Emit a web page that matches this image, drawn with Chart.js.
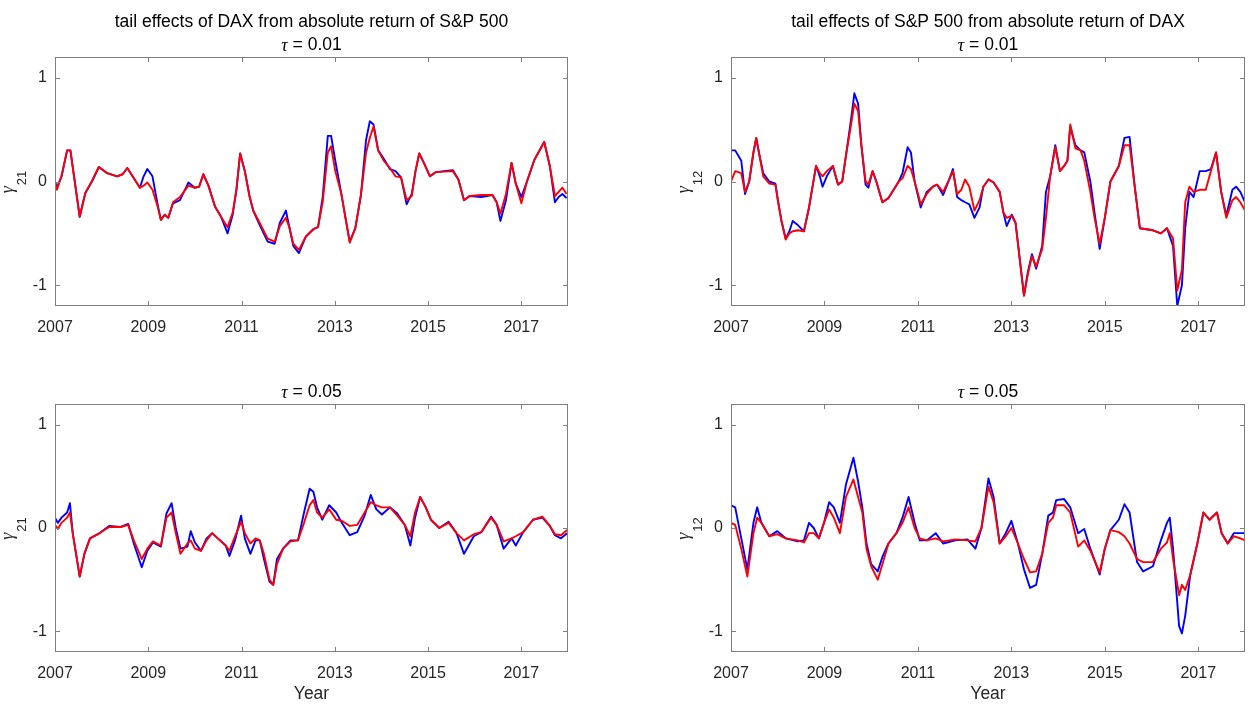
<!DOCTYPE html>
<html lang="en">
<head>
<meta charset="UTF-8">
<title>tail effects of DAX and S&amp;P 500</title>
<script src="https://cdn.jsdelivr.net/npm/chart.js"></script>
<style>
  body { margin: 0; background: #fff; }
  #wrap { position: relative; width: 1254px; height: 707px; overflow: hidden; }
  #wrap canvas { position: absolute; }
</style>
</head>
<body>
<div id="wrap">
  <canvas id="c1" width="620" height="350" style="left:0;top:0"></canvas>
  <canvas id="c2" width="614" height="350" style="left:640px;top:0"></canvas>
  <canvas id="c3" width="620" height="347" style="left:0;top:360px"></canvas>
  <canvas id="c4" width="614" height="347" style="left:640px;top:360px"></canvas>
</div>
<script>
const xTicks = [2007, 2009, 2011, 2013, 2015, 2017];
const yTicks = [-1, 0, 1];

// DAX from |S&P 500|, tau = 0.01
const t1 = [2007.00, 2007.04, 2007.14, 2007.26, 2007.33, 2007.53, 2007.65, 2007.79, 2007.94, 2008.12,
  2008.33, 2008.45, 2008.55, 2008.65, 2008.82, 2008.90, 2008.98, 2009.09, 2009.20, 2009.27,
  2009.35, 2009.43, 2009.53, 2009.68, 2009.86, 2010.00, 2010.09, 2010.18, 2010.29, 2010.43,
  2010.56, 2010.70, 2010.81, 2010.89, 2010.97, 2011.07, 2011.17, 2011.25, 2011.39, 2011.56,
  2011.71, 2011.82, 2011.95, 2012.03, 2012.11, 2012.23, 2012.38, 2012.54, 2012.64, 2012.74,
  2012.85, 2012.92, 2013.01, 2013.14, 2013.24, 2013.32, 2013.44, 2013.56, 2013.67, 2013.75,
  2013.83, 2013.93, 2014.05, 2014.18, 2014.30, 2014.42, 2014.54, 2014.65, 2014.73, 2014.81,
  2014.91, 2015.04, 2015.16, 2015.53, 2015.65, 2015.77, 2015.89, 2016.14, 2016.38, 2016.47,
  2016.55, 2016.67, 2016.79, 2016.88, 2017.00, 2017.12, 2017.28, 2017.49, 2017.61, 2017.72,
  2017.80, 2017.88, 2017.97];
const blue1 = [0.00, -0.06, 0.05, 0.30, 0.30, -0.34, -0.11, 0.00, 0.14, 0.08,
  0.05, 0.07, 0.13, 0.06, -0.06, 0.05, 0.12, 0.05, -0.22, -0.37,
  -0.32, -0.35, -0.21, -0.18, -0.01, -0.06, -0.05, 0.07, -0.04, -0.24,
  -0.34, -0.50, -0.32, -0.08, 0.27, 0.10, -0.14, -0.28, -0.42, -0.58,
  -0.60, -0.40, -0.28, -0.45, -0.62, -0.69, -0.53, -0.46, -0.44, -0.15,
  0.44, 0.44, 0.20, -0.12, -0.38, -0.58, -0.45, -0.13, 0.40, 0.58,
  0.55, 0.30, 0.22, 0.12, 0.10, 0.04, -0.22, -0.12, 0.10, 0.27,
  0.18, 0.05, 0.09, 0.11, 0.02, -0.18, -0.14, -0.15, -0.13, -0.20,
  -0.38, -0.18, 0.18, -0.02, -0.15, 0.00, 0.21, 0.38, 0.15, -0.20,
  -0.15, -0.12, -0.16];
const red1 = [0.00, -0.08, 0.05, 0.30, 0.30, -0.34, -0.11, 0.00, 0.14, 0.08,
  0.05, 0.07, 0.13, 0.06, -0.06, -0.04, -0.01, -0.08, -0.24, -0.37,
  -0.32, -0.35, -0.20, -0.15, -0.04, -0.06, -0.05, 0.07, -0.04, -0.24,
  -0.34, -0.44, -0.30, -0.08, 0.27, 0.10, -0.14, -0.28, -0.40, -0.55,
  -0.58, -0.43, -0.35, -0.45, -0.60, -0.66, -0.53, -0.46, -0.44, -0.20,
  0.28, 0.34, 0.10, -0.12, -0.38, -0.59, -0.45, -0.13, 0.28, 0.42,
  0.53, 0.30, 0.20, 0.13, 0.05, 0.04, -0.18, -0.14, 0.10, 0.27,
  0.18, 0.05, 0.09, 0.10, 0.02, -0.18, -0.14, -0.13, -0.13, -0.20,
  -0.31, -0.12, 0.18, -0.02, -0.21, 0.00, 0.21, 0.38, 0.15, -0.14,
  -0.10, -0.06, -0.12];

// S&P 500 from |DAX|, tau = 0.01
const t2 = [2007.00, 2007.09, 2007.22, 2007.30, 2007.39, 2007.48, 2007.54, 2007.61, 2007.69, 2007.82,
  2007.95, 2008.01, 2008.08, 2008.17, 2008.25, 2008.32, 2008.43, 2008.56, 2008.67, 2008.82,
  2008.90, 2008.96, 2009.05, 2009.18, 2009.29, 2009.38, 2009.46, 2009.57, 2009.64, 2009.72,
  2009.79, 2009.88, 2009.94, 2010.03, 2010.11, 2010.24, 2010.37, 2010.59, 2010.67, 2010.78,
  2010.85, 2010.93, 2011.06, 2011.19, 2011.32, 2011.41, 2011.54, 2011.67, 2011.75, 2011.84,
  2011.93, 2012.01, 2012.10, 2012.21, 2012.32, 2012.40, 2012.51, 2012.62, 2012.75, 2012.83,
  2012.90, 2013.01, 2013.09, 2013.18, 2013.27, 2013.35, 2013.44, 2013.53, 2013.66, 2013.74,
  2013.83, 2013.94, 2014.04, 2014.13, 2014.20, 2014.26, 2014.37, 2014.48, 2014.56, 2014.69,
  2014.78, 2014.89, 2015.00, 2015.12, 2015.30, 2015.42, 2015.53, 2015.64, 2015.75, 2016.03,
  2016.20, 2016.33, 2016.46, 2016.55, 2016.65, 2016.72, 2016.81, 2016.90, 2017.03, 2017.16,
  2017.27, 2017.38, 2017.49, 2017.60, 2017.73, 2017.81, 2017.90, 2018.00];
const blue2 = [0.30, 0.30, 0.20, -0.12, 0.00, 0.28, 0.42, 0.25, 0.08, 0.00,
  -0.02, -0.20, -0.38, -0.55, -0.48, -0.38, -0.42, -0.48, -0.25, 0.15,
  0.05, -0.05, 0.05, 0.15, -0.03, 0.00, 0.25, 0.60, 0.85, 0.75,
  0.35, -0.03, -0.06, 0.10, 0.00, -0.20, -0.16, 0.00, 0.08, 0.33,
  0.28, 0.00, -0.25, -0.10, -0.05, -0.03, -0.13, 0.02, 0.12, -0.15,
  -0.18, -0.20, -0.22, -0.35, -0.25, -0.05, 0.02, -0.01, -0.10, -0.30,
  -0.43, -0.32, -0.40, -0.75, -1.10, -0.88, -0.70, -0.84, -0.62, -0.10,
  0.05, 0.35, 0.10, 0.15, 0.20, 0.53, 0.35, 0.30, 0.28, 0.00,
  -0.30, -0.65, -0.35, 0.00, 0.15, 0.42, 0.43, -0.05, -0.45, -0.47,
  -0.50, -0.45, -0.62, -1.20, -1.00, -0.45, -0.10, -0.15, 0.10, 0.10,
  0.12, 0.28, -0.10, -0.33, -0.08, -0.05, -0.10, -0.20];
const red2 = [0.00, 0.10, 0.08, -0.10, 0.00, 0.28, 0.42, 0.25, 0.05, -0.02,
  -0.03, -0.20, -0.38, -0.56, -0.50, -0.48, -0.47, -0.48, -0.25, 0.15,
  0.08, 0.05, 0.10, 0.15, -0.03, 0.00, 0.25, 0.55, 0.75, 0.68,
  0.35, 0.00, -0.03, 0.10, 0.00, -0.20, -0.16, 0.00, 0.03, 0.15,
  0.12, 0.00, -0.22, -0.12, -0.05, -0.03, -0.10, 0.02, 0.10, -0.12,
  -0.08, 0.02, -0.05, -0.28, -0.18, -0.05, 0.02, -0.01, -0.10, -0.30,
  -0.35, -0.33, -0.40, -0.75, -1.10, -0.90, -0.72, -0.82, -0.65, -0.35,
  0.05, 0.33, 0.10, 0.15, 0.20, 0.55, 0.32, 0.30, 0.20, -0.10,
  -0.35, -0.60, -0.35, 0.00, 0.15, 0.35, 0.35, -0.05, -0.45, -0.47,
  -0.50, -0.45, -0.55, -1.05, -0.85, -0.20, -0.05, -0.10, -0.08, -0.08,
  0.10, 0.28, -0.10, -0.35, -0.18, -0.15, -0.20, -0.28];

// DAX from |S&P 500|, tau = 0.05
const t3 = [2007.00, 2007.06, 2007.14, 2007.26, 2007.32, 2007.38, 2007.53, 2007.63, 2007.75, 2007.92,
  2008.16, 2008.41, 2008.57, 2008.69, 2008.86, 2008.98, 2009.10, 2009.27, 2009.39, 2009.50,
  2009.59, 2009.69, 2009.84, 2009.91, 2010.00, 2010.13, 2010.25, 2010.37, 2010.49, 2010.66,
  2010.74, 2010.86, 2010.99, 2011.07, 2011.19, 2011.30, 2011.39, 2011.48, 2011.60, 2011.68,
  2011.76, 2011.89, 2012.05, 2012.21, 2012.34, 2012.46, 2012.54, 2012.62, 2012.73, 2012.88,
  2013.03, 2013.15, 2013.32, 2013.48, 2013.64, 2013.77, 2013.89, 2014.01, 2014.18, 2014.34,
  2014.50, 2014.62, 2014.72, 2014.83, 2014.95, 2015.06, 2015.24, 2015.44, 2015.61, 2015.77,
  2015.98, 2016.14, 2016.35, 2016.47, 2016.62, 2016.79, 2016.88, 2017.04, 2017.25, 2017.45,
  2017.61, 2017.72, 2017.85, 2017.98];
const blue3 = [0.10, 0.05, 0.10, 0.15, 0.24, -0.05, -0.47, -0.25, -0.10, -0.06,
  0.02, 0.01, 0.04, -0.15, -0.38, -0.22, -0.14, -0.18, 0.14, 0.24,
  0.00, -0.20, -0.18, -0.03, -0.14, -0.22, -0.10, -0.05, -0.10, -0.17,
  -0.27, -0.12, 0.12, -0.10, -0.25, -0.12, -0.12, -0.30, -0.52, -0.55,
  -0.30, -0.20, -0.12, -0.12, 0.15, 0.38, 0.35, 0.20, 0.08, 0.22,
  0.15, 0.05, -0.07, -0.04, 0.12, 0.32, 0.18, 0.13, 0.20, 0.14,
  0.03, -0.17, 0.10, 0.30, 0.20, 0.08, 0.00, 0.06, -0.05, -0.25,
  -0.08, -0.04, 0.11, 0.03, -0.20, -0.10, -0.17, -0.04, 0.08, 0.10,
  0.02, -0.07, -0.10, -0.05];
const red3 = [0.03, -0.01, 0.05, 0.10, 0.15, -0.05, -0.47, -0.25, -0.10, -0.06,
  0.01, 0.01, 0.03, -0.12, -0.30, -0.20, -0.13, -0.17, 0.10, 0.15,
  -0.05, -0.25, -0.15, -0.12, -0.20, -0.22, -0.12, -0.05, -0.10, -0.17,
  -0.22, -0.08, 0.06, -0.05, -0.15, -0.10, -0.12, -0.25, -0.50, -0.55,
  -0.35, -0.20, -0.13, -0.12, 0.05, 0.22, 0.27, 0.15, 0.10, 0.18,
  0.08, 0.07, 0.02, 0.03, 0.15, 0.25, 0.22, 0.20, 0.20, 0.12,
  0.03, -0.08, 0.15, 0.30, 0.20, 0.08, 0.00, 0.05, -0.05, -0.12,
  -0.06, -0.04, 0.10, 0.03, -0.13, -0.10, -0.08, -0.04, 0.08, 0.11,
  0.02, -0.06, -0.07, -0.02];

// S&P 500 from |DAX|, tau = 0.05
const t4 = [2007.00, 2007.09, 2007.22, 2007.35, 2007.48, 2007.56, 2007.65, 2007.82, 2007.99, 2008.17,
  2008.43, 2008.56, 2008.67, 2008.77, 2008.88, 2008.99, 2009.10, 2009.20, 2009.33, 2009.46,
  2009.62, 2009.72, 2009.81, 2009.90, 2010.00, 2010.14, 2010.24, 2010.37, 2010.54, 2010.67,
  2010.80, 2010.93, 2011.04, 2011.19, 2011.38, 2011.54, 2011.80, 2012.06, 2012.23, 2012.36,
  2012.51, 2012.62, 2012.75, 2012.88, 2013.00, 2013.14, 2013.27, 2013.40, 2013.53, 2013.66,
  2013.79, 2013.89, 2013.96, 2014.13, 2014.26, 2014.43, 2014.56, 2014.69, 2014.89, 2015.00,
  2015.12, 2015.30, 2015.42, 2015.53, 2015.69, 2015.82, 2016.03, 2016.20, 2016.33, 2016.39,
  2016.46, 2016.59, 2016.65, 2016.72, 2016.83, 2016.98, 2017.11, 2017.24, 2017.40, 2017.50,
  2017.63, 2017.76, 2017.90, 2018.00];
const blue4 = [0.22, 0.20, -0.10, -0.40, 0.05, 0.20, 0.05, -0.08, -0.03, -0.10,
  -0.13, -0.12, 0.05, 0.00, -0.10, 0.05, 0.25, 0.20, 0.05, 0.42,
  0.68, 0.45, 0.20, -0.15, -0.35, -0.42, -0.28, -0.15, -0.05, 0.10,
  0.30, 0.05, -0.12, -0.12, -0.05, -0.15, -0.12, -0.11, -0.20, 0.00,
  0.48, 0.30, -0.15, -0.05, 0.07, -0.15, -0.40, -0.58, -0.55, -0.25,
  0.12, 0.15, 0.27, 0.28, 0.20, -0.05, -0.01, -0.20, -0.45, -0.20,
  -0.02, 0.08, 0.23, 0.15, -0.33, -0.42, -0.37, -0.12, 0.05, 0.10,
  -0.20, -0.95, -1.02, -0.85, -0.45, -0.15, 0.15, 0.08, 0.15, -0.05,
  -0.15, -0.05, -0.05, -0.05];
const red4 = [0.05, 0.03, -0.20, -0.47, -0.05, 0.10, 0.05, -0.08, -0.06, -0.10,
  -0.12, -0.14, -0.05, -0.05, -0.10, 0.05, 0.18, 0.10, -0.05, 0.30,
  0.47, 0.30, 0.15, -0.20, -0.37, -0.50, -0.35, -0.15, -0.05, 0.05,
  0.20, 0.00, -0.10, -0.12, -0.10, -0.13, -0.11, -0.12, -0.13, 0.00,
  0.40, 0.25, -0.15, -0.08, 0.00, -0.15, -0.30, -0.43, -0.42, -0.25,
  0.05, 0.10, 0.22, 0.22, 0.15, -0.18, -0.12, -0.22, -0.43, -0.20,
  -0.02, -0.04, -0.08, -0.15, -0.30, -0.33, -0.33, -0.20, -0.14, -0.05,
  -0.30, -0.65, -0.55, -0.60, -0.45, -0.15, 0.15, 0.08, 0.15, -0.05,
  -0.15, -0.08, -0.10, -0.12];

const FONT = '"Liberation Sans", Arial, Helvetica, sans-serif';
const GREEK = 'italic 18px "Liberation Serif", "DejaVu Serif", serif';
const TEXT = '#262626';
const AXIS = '#808080';

// box frame with inward ticks on all four sides, plus titles and the gamma label
const panelText = {
  id: 'panelText',
  afterDatasetsDraw(chart, args, o) {
    const { ctx, chartArea: a, scales: { x, y } } = chart;
    ctx.save();
    ctx.strokeStyle = AXIS;
    ctx.lineWidth = 1;
    ctx.beginPath();
    for (const v of xTicks) {
      const px = Math.round(x.getPixelForValue(v)) + 0.5;
      ctx.moveTo(px, a.bottom); ctx.lineTo(px, a.bottom - 5);
      ctx.moveTo(px, a.top); ctx.lineTo(px, a.top + 5);
    }
    for (const v of yTicks) {
      const py = Math.round(y.getPixelForValue(v)) + 0.5;
      ctx.moveTo(a.left, py); ctx.lineTo(a.left + 5, py);
      ctx.moveTo(a.right, py); ctx.lineTo(a.right - 5, py);
    }
    ctx.stroke();
    ctx.strokeRect(a.left + 0.5, a.top + 0.5, a.right - a.left - 1, a.bottom - a.top - 1);

    const cx = (a.left + a.right) / 2;
    ctx.fillStyle = '#000';
    ctx.textBaseline = 'middle';
    const n = o.titles.length;
    o.titles.forEach((s, i) => {
      const ty = a.top - 12 - 23 * (n - 1 - i);
      if (s.startsWith('τ')) {
        // tau in the symbol style, the rest in the label font
        const rest = s.slice(1);
        ctx.font = GREEK;
        const w1 = ctx.measureText('τ').width;
        ctx.font = '17.5px ' + FONT;
        const w2 = ctx.measureText(rest).width;
        ctx.textAlign = 'left';
        ctx.font = GREEK;
        ctx.fillText('τ', cx - (w1 + w2) / 2, ty + 1);
        ctx.font = '17.5px ' + FONT;
        ctx.fillText(rest, cx - (w1 + w2) / 2 + w1, ty);
      } else {
        ctx.textAlign = 'center';
        ctx.font = '17.5px ' + FONT;
        ctx.fillText(s, cx, ty);
      }
    });

    if (o.year) {
      ctx.textAlign = 'center';
      ctx.fillStyle = TEXT;
      ctx.font = '17.5px ' + FONT;
      ctx.fillText('Year', cx, a.bottom + 42);
    }

    // rotated gamma with subscript
    const cy = y.getPixelForValue(0);
    ctx.translate(a.left - 42, cy);
    ctx.rotate(-Math.PI / 2);
    ctx.fillStyle = TEXT;
    ctx.textBaseline = 'alphabetic';
    ctx.textAlign = 'left';
    ctx.font = GREEK;
    const gw = ctx.measureText('γ').width;
    ctx.font = '13px ' + FONT;
    const sw = ctx.measureText(o.sub).width;
    const x0 = -(gw + sw) / 2 - 1;
    ctx.font = GREEK;
    ctx.fillText('γ', x0, 0);
    ctx.font = '13px ' + FONT;
    ctx.fillText(o.sub, x0 + gw + 1, 13);
    ctx.restore();
  }
};

function makePanel(id, t, blue, red, area, opts) {
  if (t.length !== blue.length || t.length !== red.length) {
    throw new Error(id + ': length mismatch ' + t.length + ' ' + blue.length + ' ' + red.length);
  }
  const canvas = document.getElementById(id);
  const W = canvas.width, H = canvas.height;
  const pts = vals => t.map((x, i) => ({ x, y: vals[i] }));
  return new Chart(canvas, {
    type: 'line',
    data: {
      datasets: [
        { data: pts(red), borderColor: '#ff0000', borderWidth: 1.9 },
        { data: pts(blue), borderColor: '#0000ff', borderWidth: 1.9 }
      ]
    },
    options: {
      responsive: false,
      animation: false,
      events: [],
      parsing: false,
      elements: { point: { radius: 0 }, line: { tension: 0, borderJoinStyle: 'round' } },
      layout: { padding: { left: 0, top: area.top, right: W - area.right, bottom: 0 } },
      scales: {
        x: {
          type: 'linear', min: 2007, max: 2018,
          grid: { display: false, drawTicks: false },
          border: { display: false },
          afterBuildTicks: s => { s.ticks = xTicks.map(v => ({ value: v })); },
          afterFit: s => { s.height = H - area.bottom; },
          ticks: { color: TEXT, font: { family: FONT, size: 16 }, padding: 12, maxRotation: 0,
                   callback: v => String(v) }
        },
        y: {
          min: -1.2, max: 1.2,
          grid: { display: false, drawTicks: false },
          border: { display: false },
          afterBuildTicks: s => { s.ticks = yTicks.map(v => ({ value: v })); },
          afterFit: s => { s.width = area.left; },
          ticks: { color: TEXT, font: { family: FONT, size: 16 }, padding: 8,
                   callback: v => String(v) }
        }
      },
      plugins: {
        legend: { display: false },
        tooltip: { enabled: false },
        panelText: opts
      }
    },
    plugins: [panelText]
  });
}

makePanel('c1', t1, blue1, red1, { left: 55, top: 57, right: 568, bottom: 306 },
  { titles: ['tail effects of DAX from absolute return of S&P 500', 'τ = 0.01'], sub: '21' });
makePanel('c2', t2, blue2, red2, { left: 91, top: 57, right: 605, bottom: 306 },
  { titles: ['tail effects of S&P 500 from absolute return of DAX', 'τ = 0.01'], sub: '12' });
makePanel('c3', t3, blue3, red3, { left: 55, top: 44, right: 568, bottom: 292 },
  { titles: ['τ = 0.05'], sub: '21', year: true });
makePanel('c4', t4, blue4, red4, { left: 91, top: 44, right: 605, bottom: 292 },
  { titles: ['τ = 0.05'], sub: '12', year: true });
</script>
</body>
</html>
